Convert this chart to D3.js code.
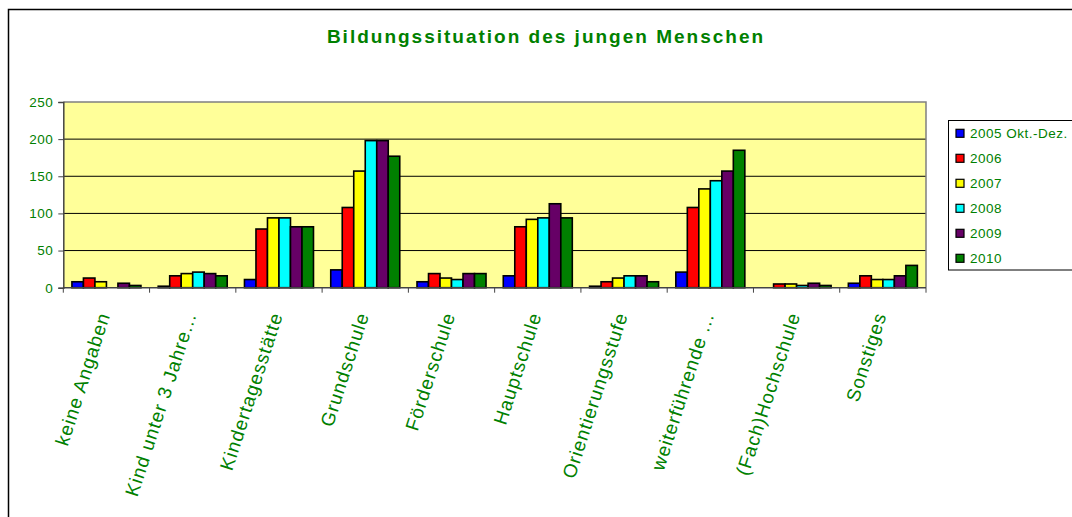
<!DOCTYPE html>
<html>
<head>
<meta charset="utf-8">
<script src="https://cdn.jsdelivr.net/npm/d3@7"></script>
<style>
  body { margin: 0; background: #fff; }
  text { font-family: Arial, "Liberation Sans", sans-serif; fill: #008000; }
</style>
</head>
<body>
<div class="container"></div>
<script>
var chartWidth = 1072,
    chartHeight = 517;

var title = 'Bildungssituation des jungen Menschen';

var categories = ['keine Angaben', 'Kind unter 3 Jahre...', 'Kindertagesstätte', 'Grundschule',
                  'Förderschule', 'Hauptschule', 'Orientierungsstufe', 'weiterführende ...',
                  '(Fach)Hochschule', 'Sonstiges'];

var seriesNames = ['2005 Okt.-Dez.', '2006', '2007', '2008', '2009', '2010'];

var s2005 = [8, 2, 11, 24, 8, 16, 2, 21, 0, 6];
var s2006 = [13, 16, 79, 108, 19, 82, 8, 108, 5, 16];
var s2007 = [8, 19, 94, 157, 13, 92, 13, 133, 5, 11];
var s2008 = [0, 21, 94, 198, 11, 94, 16, 144, 3, 11];
var s2009 = [6, 19, 82, 198, 19, 113, 16, 157, 6, 16];
var s2010 = [3, 16, 82, 177, 19, 94, 8, 185, 3, 30];

var yTicks = [0, 50, 100, 150, 200, 250];

var colours = ['#0000ff', '#ff0000', '#ffff00', '#00ffff', '#660066', '#008000'];

var seriesValues = [s2005, s2006, s2007, s2008, s2009, s2010];

// plot area
var plot = { left: 63.3, right: 926, top: 102, bottom: 287.7 };

var svg = d3.select('.container')
            .append('svg')
              .attr('xmlns', 'http://www.w3.org/2000/svg')
              .attr('width', chartWidth)
              .attr('height', chartHeight);

// outer chart frame (runs off the page on the right/bottom)
svg.append('rect')
   .attr('x', 8.5).attr('y', 9.5)
   .attr('width', 1200).attr('height', 700)
   .attr('fill', '#fff').attr('stroke', '#000').attr('stroke-width', 1.5);

var x = d3.scaleBand().domain(categories).range([plot.left, plot.right]).padding(0);
var x1 = d3.scaleBand().domain(seriesNames).range([0, x.bandwidth()])
           .paddingInner(0).paddingOuter(0.75);
var y = d3.scaleLinear().domain([0, 250]).range([plot.bottom, plot.top]);
var colour = d3.scaleOrdinal().domain(seriesNames).range(colours);

// plot background
svg.append('rect')
   .attr('x', plot.left).attr('y', plot.top)
   .attr('width', plot.right - plot.left).attr('height', plot.bottom - plot.top)
   .attr('fill', '#ffff99');

// gridlines
svg.append('g')
   .selectAll('line')
   .data(yTicks.filter(function(t) { return t > 0 && t < 250; }))
   .join('line')
     .attr('x1', plot.left).attr('x2', plot.right)
     .attr('y1', function(d) { return y(d); }).attr('y2', function(d) { return y(d); })
     .attr('stroke', '#000').attr('stroke-width', 1);

// top and right border of plot area
svg.append('path')
   .attr('d', 'M' + plot.left + ',' + plot.top + 'H' + plot.right + 'V' + plot.bottom)
   .attr('fill', 'none').attr('stroke', '#808080').attr('stroke-width', 1.5);

// bars
var groups = svg.append('g')
   .selectAll('g')
   .data(categories)
   .join('g')
     .attr('transform', function(d) { return 'translate(' + x(d) + ',0)'; });

groups.selectAll('rect')
   .data(function(c, i) {
     return seriesNames.map(function(s, j) { return { s: s, v: seriesValues[j][i] }; })
                       .filter(function(d) { return d.v > 0; });
   })
   .join('rect')
     .attr('x', function(d) { return x1(d.s); })
     .attr('y', function(d) { return y(d.v); })
     .attr('width', x1.bandwidth())
     .attr('height', function(d) { return y(0) - y(d.v); })
     .attr('fill', function(d) { return colour(d.s); })
     .attr('stroke', '#000').attr('stroke-width', 1.6);

// y axis
var yAxis = svg.append('g')
   .attr('transform', 'translate(' + plot.left + ',0)')
   .call(d3.axisLeft(y).tickValues(yTicks).tickSize(5).tickPadding(5));
yAxis.select('.domain').attr('stroke', '#444').attr('stroke-width', 1.5);
yAxis.selectAll('.tick line').attr('stroke', '#444');
yAxis.selectAll('.tick text')
   .attr('font-size', '13.5px').attr('letter-spacing', '0.5px')
   .attr('font-family', null).attr('fill', '#008000');

// x axis (ticks at category boundaries)
var boundaries = categories.map(function(c) { return x(c); }).concat([plot.right]);
var xAxisG = svg.append('g');
xAxisG.append('line')
   .attr('x1', plot.left).attr('x2', plot.right)
   .attr('y1', plot.bottom).attr('y2', plot.bottom)
   .attr('stroke', '#444').attr('stroke-width', 1.5);
xAxisG.selectAll('.xt')
   .data(boundaries)
   .join('line').attr('class', 'xt')
     .attr('x1', function(d) { return d; }).attr('x2', function(d) { return d; })
     .attr('y1', plot.bottom).attr('y2', plot.bottom + 5)
     .attr('stroke', '#444');

xAxisG.selectAll('text')
   .data(categories)
   .join('text')
     .attr('transform', function(d) {
       return 'translate(' + (x(d) + x.bandwidth() / 2 + 4) + ',315) rotate(-72)';
     })
     .attr('text-anchor', 'end')
     .attr('font-size', '19px')
     .attr('letter-spacing', '1px')
     .text(function(d) { return d; });

// title
svg.append('text')
   .attr('x', 546).attr('y', 43)
   .attr('text-anchor', 'middle')
   .attr('font-size', '19px').attr('font-weight', 'bold')
   .attr('letter-spacing', '2px')
   .text(title);

// legend
var legend = svg.append('g');
legend.append('rect')
   .attr('x', 948.5).attr('y', 120.5)
   .attr('width', 200).attr('height', 149.5)
   .attr('fill', '#fff').attr('stroke', '#000').attr('stroke-width', 1);

var legendY = d3.scalePoint().domain(seriesNames).range([133.3, 258.3]);

var items = legend.selectAll('g.item')
   .data(seriesNames)
   .join('g').attr('class', 'item')
     .attr('transform', function(d) { return 'translate(0,' + legendY(d) + ')'; });
items.append('rect')
   .attr('x', 956).attr('y', -4)
   .attr('width', 8).attr('height', 8)
   .attr('fill', function(d) { return colour(d); })
   .attr('stroke', '#000').attr('stroke-width', 1.2);
items.append('text')
   .attr('x', 970).attr('dy', '0.35em')
   .attr('font-size', '13.5px').attr('letter-spacing', '0.5px')
   .text(function(d) { return d; });
</script>
</body>
</html>
